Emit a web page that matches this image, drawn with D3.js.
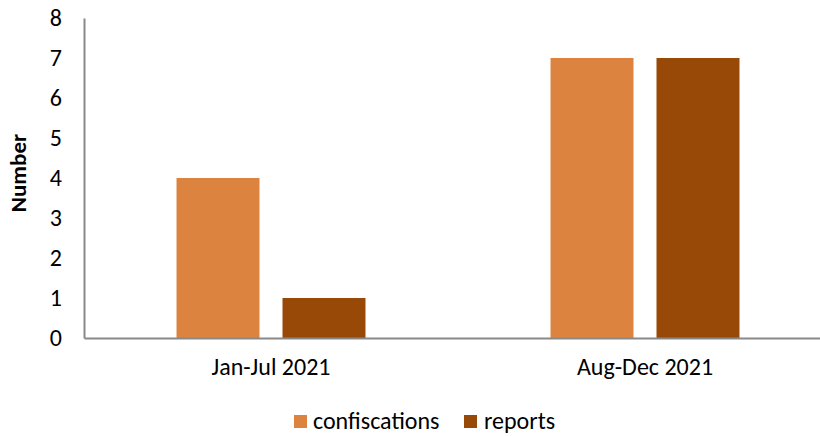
<!DOCTYPE html>
<html><head><meta charset="utf-8">
<script src="https://cdn.jsdelivr.net/npm/d3@7"></script>
<style>body{margin:0;background:#fff}text{font-family:Carlito,"Open Sans","Liberation Sans",sans-serif;fill:#000}</style>
</head><body><svg id="c" width="820" height="436"></svg>
<script>
const categories = ["Jan-Jul 2021", "Aug-Dec 2021"];
const seriesNames = ["confiscations", "reports"];
const confiscations = [4, 7];
const reports = [1, 7];
const yTicks = [0, 1, 2, 3, 4, 5, 6, 7, 8];
const colors = ["#DC843F", "#984807"];

const svg = d3.select("#c");
const x0 = d3.scaleBand().domain(categories).range([84, 832]).paddingInner(0).paddingOuter(0);
const x1 = d3.scaleBand().domain(seriesNames).range([0, x0.bandwidth()]).paddingInner(0.217).paddingOuter(0.873);
const y = d3.scaleLinear().domain([0, 8]).range([338, 18]);

const data = categories.map((c, i) => ({cat: c, vals: [confiscations[i], reports[i]]}));
svg.selectAll("g.grp").data(data).join("g").attr("class","grp")
  .attr("transform", d => `translate(${x0(d.cat)},0)`)
  .selectAll("rect").data(d => d.vals.map((v, j) => ({v, s: seriesNames[j], j})))
  .join("rect")
  .attr("x", d => x1(d.s)).attr("width", x1.bandwidth())
  .attr("y", d => y(d.v)).attr("height", d => y(0) - y(d.v))
  .attr("fill", d => colors[d.j]);

// y axis
const ya = svg.append("g").attr("transform","translate(84,0)")
  .call(d3.axisLeft(y).tickValues(yTicks).tickSize(0).tickPadding(22));
ya.select(".domain").attr("stroke","#898989").attr("stroke-width",2);
ya.selectAll("text").attr("font-size",24);

// x axis
const xa = svg.append("g").attr("transform","translate(0,338)")
  .call(d3.axisBottom(x0).tickSize(0).tickPadding(20));
xa.select(".domain").attr("stroke","#898989").attr("stroke-width",2);
xa.selectAll("text").attr("font-size",24);

svg.append("text").attr("transform","translate(26,173) rotate(-90)")
  .attr("text-anchor","middle").attr("font-size",23).attr("font-weight","bold").text("Number");

// legend
const lg = [{x:294, tx:313}, {x:464, tx:484}];
seriesNames.forEach((s, i) => {
  svg.append("rect").attr("x", lg[i].x).attr("y", 415).attr("width", 13).attr("height", 13).attr("fill", colors[i]);
  svg.append("text").attr("x", lg[i].tx).attr("y", 429).attr("font-size", 24).text(s);
});
</script></body></html>
